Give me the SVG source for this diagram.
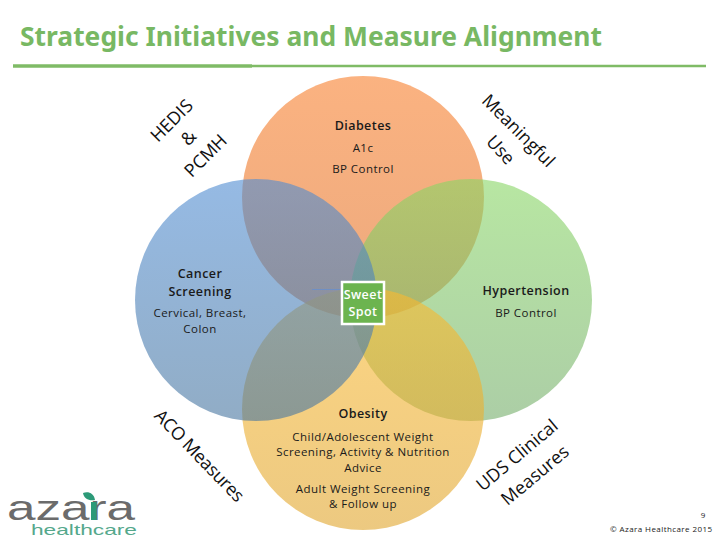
<svg xmlns="http://www.w3.org/2000/svg" width="720" height="540" viewBox="0 0 720 540">
<style>
text{font-family:"Open Sans","Liberation Sans",sans-serif;fill:#1a1a1a;text-anchor:middle}
.h{font-size:12.5px;font-weight:600;letter-spacing:.45px}
.b{font-size:11.5px;letter-spacing:.45px}
.r{font-size:18px;fill:#111}
.c{opacity:.6}
</style>
<defs>
<linearGradient id="gT" x1="0" y1="0" x2="0" y2="1"><stop offset="0" stop-color="#f87f2c"/><stop offset="1" stop-color="#e07026"/></linearGradient>
<linearGradient id="gL" x1="0" y1="0" x2="0" y2="1"><stop offset="0" stop-color="#4f8cd2"/><stop offset="1" stop-color="#47759f"/></linearGradient>
<linearGradient id="gR" x1="0" y1="0" x2="0" y2="1"><stop offset="0" stop-color="#88d664"/><stop offset="1" stop-color="#74ad6a"/></linearGradient>
<linearGradient id="gB" x1="0" y1="0" x2="0" y2="1"><stop offset="0" stop-color="#fbb92e"/><stop offset="1" stop-color="#e0a52c"/></linearGradient>
</defs>
<rect width="720" height="540" fill="#fff"/>
<g id="title">
<text x="20" y="46" textLength="582" lengthAdjust="spacingAndGlyphs" style="font-size:27px;font-weight:700;fill:#78b863;text-anchor:start;font-family:'Noto Sans','Liberation Sans',sans-serif">Strategic Initiatives and Measure Alignment</text>
<line x1="13" y1="66" x2="252" y2="66" stroke="#7fbb66" stroke-width="3.4"/>
<line x1="252" y1="66" x2="706" y2="66" stroke="#7fbb66" stroke-width="2.6"/>
</g>
<g id="venn-circles">
<circle id="circle-diabetes" class="c" cx="363" cy="197" r="121" fill="url(#gT)"/>
<circle id="circle-hypertension" class="c" cx="471" cy="300" r="121" fill="url(#gR)"/>
<circle id="circle-obesity" class="c" cx="363" cy="409" r="121" fill="url(#gB)"/>
<circle id="circle-cancer" class="c" cx="256" cy="300" r="121" fill="url(#gL)"/>
</g>
<g id="connectors"><line x1="312" y1="289.500" x2="342" y2="289.500" stroke="#6f8fc4" stroke-width="1"/></g>
<g id="diabetes">
<text class="h" x="363" y="130">Diabetes</text>
<text class="b" x="363" y="152">A1c</text>
<text class="b" x="363" y="173">BP Control</text>
</g>
<g id="cancer">
<text class="h" x="200" y="278">Cancer</text>
<text class="h" x="200" y="296">Screening</text>
<text class="b" x="200" y="317">Cervical, Breast,</text>
<text class="b" x="200" y="333">Colon</text>
</g>
<g id="hypertension">
<text class="h" x="526" y="295">Hypertension</text>
<text class="b" x="526" y="317">BP Control</text>
</g>
<g id="obesity">
<text class="h" x="363" y="418">Obesity</text>
<text class="b" x="363" y="441">Child/Adolescent Weight</text>
<text class="b" x="363" y="456">Screening, Activity &amp; Nutrition</text>
<text class="b" x="363" y="472">Advice</text>
<text class="b" x="363" y="493">Adult Weight Screening</text>
<text class="b" x="363" y="508">&amp; Follow up</text>
</g>
<g id="sweet-spot">
<rect x="342" y="282" width="42" height="42" fill="#6cb44f" stroke="#fff" stroke-width="2.500"/>
<text class="h" x="363" y="299" style="fill:#fff">Sweet</text>
<text class="h" x="363" y="316" style="fill:#fff">Spot</text>
</g>
<g id="label-hedis">
<text class="r" transform="translate(176 125) rotate(-45)">HEDIS</text>
<text class="r" transform="translate(193 142) rotate(-45)">&amp;</text>
<text class="r" transform="translate(210 160) rotate(-45)">PCMH</text>
</g>
<g id="label-meaningful">
<text class="r" transform="translate(514 135) rotate(45)">Meaningful</text>
<text class="r" transform="translate(496 154) rotate(48)">Use</text>
</g>
<g id="label-aco">
<text class="r" transform="translate(195 460) rotate(46)" textLength="120">ACO Measures</text>
</g>
<g id="label-uds">
<text class="r" transform="translate(521 460) rotate(-40)">UDS Clinical</text>
<text class="r" transform="translate(539 480) rotate(-40)">Measures</text>
</g>
<g id="logo">
<text x="71" y="520" textLength="128" lengthAdjust="spacingAndGlyphs" style="font-size:35px;fill:#6b6b6b;font-family:'Liberation Sans',sans-serif">azara</text>
<path d="M83 493c5-2 11 0 12 7-6 1-11-1-12-7z" fill="#2c9a78"/>
<rect x="91" y="502" width="5.500" height="18" fill="#2c9a78"/>
<text x="84" y="535" textLength="106" lengthAdjust="spacingAndGlyphs" style="font-size:15px;fill:#55a88c;font-family:'Liberation Sans',sans-serif">healthcare</text>
</g>
<g id="footer">
<text x="703" y="518" style="font-size:8px">9</text>
<text x="661" y="532" textLength="102" style="font-size:8px">© Azara Healthcare 2015</text>
</g>
</svg>
